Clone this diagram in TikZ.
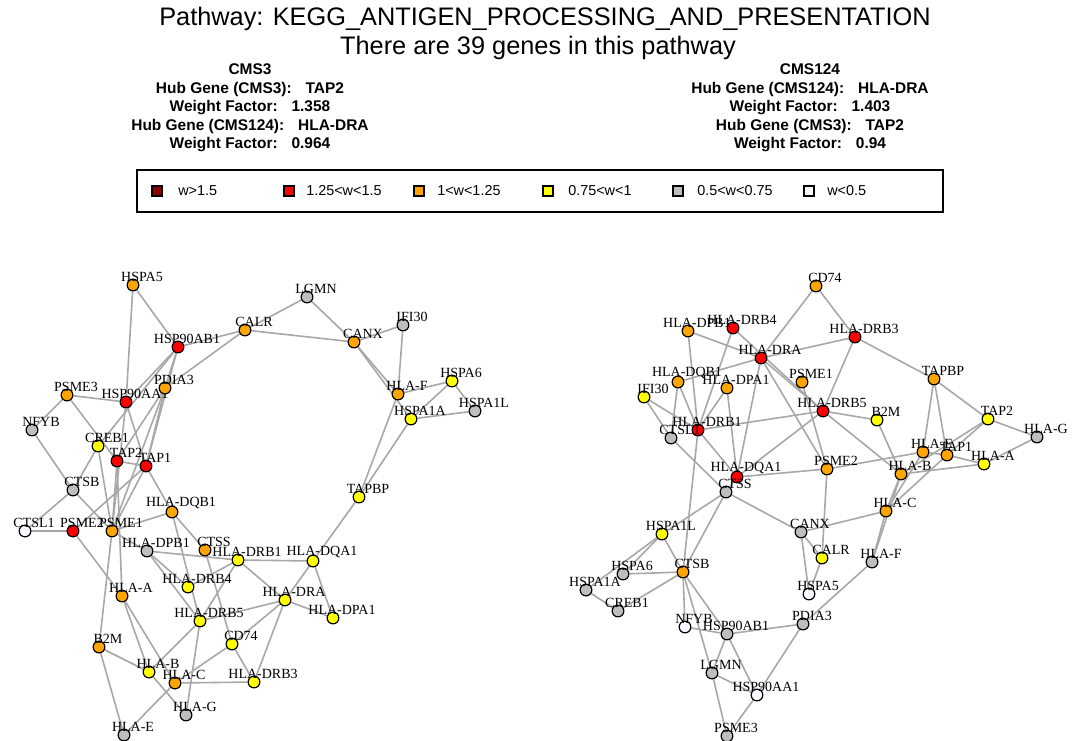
\documentclass[tikz,border=0pt]{standalone}
\usepackage{fontspec}
\setmainfont{Liberation Serif}
\newfontfamily\hdrfont{Liberation Sans}
\usetikzlibrary{backgrounds}
\definecolor{wdark}{HTML}{8B0000}
\definecolor{wred}{HTML}{FF0000}
\definecolor{worange}{HTML}{FFA500}
\definecolor{wyellow}{HTML}{FFFF00}
\definecolor{wgray}{HTML}{BEBEBE}
\definecolor{wwhite}{HTML}{F8F8FF}
\definecolor{linkgray}{HTML}{A8A8A8}
\tikzset{
  gene/.style={circle, draw=black, line width=0.9pt, fill=#1, minimum size=8.8pt, inner sep=0pt},
  glab/.style={anchor=south, inner sep=0pt, font=\fontsize{10.5}{12}\selectfont},
  link/.style={draw=linkgray, line width=1.2pt},
  ttl/.style={font=\hdrfont\fontsize{19}{22}\selectfont, inner sep=0pt},
  info/.style={font=\hdrfont\bfseries\fontsize{11.6}{13.9}\selectfont, align=center, inner sep=0pt},
  legsq/.style={draw=black, line width=0.9pt, fill=#1, minimum size=7.5pt, inner sep=0pt},
  legtxt/.style={anchor=west, inner sep=0pt, font=\hdrfont\fontsize{10.8}{13}\selectfont}
}

\begin{document}
\begin{tikzpicture}[x=0.75pt, y=-0.75pt]
  \useasboundingbox (0,0) rectangle (1081,740);

  % Header
  \node[ttl] (title) at (545,19) {Pathway: KEGG\_ANTIGEN\_PROCESSING\_AND\_PRESENTATION};
  \node[ttl] (subtitle) at (538,48) {There are 39 genes in this pathway};
  \node[info] (infoA) at (250,108) {CMS3\\Hub Gene (CMS3):\hspace{0.9em}TAP2\\Weight Factor:\hspace{0.9em}1.358\\Hub Gene (CMS124):\hspace{0.9em}HLA-DRA\\Weight Factor:\hspace{0.9em}0.964};
  \node[info] (infoB) at (810,108) {CMS124\\Hub Gene (CMS124):\hspace{0.9em}HLA-DRA\\Weight Factor:\hspace{0.9em}1.403\\Hub Gene (CMS3):\hspace{0.9em}TAP2\\Weight Factor:\hspace{0.9em}0.94};

  % Legend
  \draw[line width=1.1pt] (137,170) rectangle (943,212);
  \foreach \i/\sx/\tx/\c/\t in {1/157/178/wdark/{w>1.5}, 2/289/306/wred/{1.25<w<1.5}, 3/419/437/worange/{1<w<1.25},
      4/548/568/wyellow/{0.75<w<1}, 5/678/697/wgray/{0.5<w<0.75}, 6/809/827/wwhite/{w<0.5}}{
    \node[legsq=\c] (key\i) at (\sx,191) {};
    \node[legtxt] (keytext\i) at (\tx,191) {\t};
  }

  % CMS3 network
  \foreach \g/\x/\y/\c in {HSPA5/133/285/worange, HSP90AB1/178/347/wred, CALR/245/330/worange, LGMN/307/297/wgray,
      CANX/354/342/worange, IFI30/403/325/wgray, HSPA6/452/381/wyellow, HLA-F/398/394/worange,
      HSPA1A/411/419/wyellow, HSPA1L/475/411/wgray, TAPBP/359/497/wyellow, PSME3/67/395/worange,
      HSP90AA1/126/402/wred, PDIA3/165/388/worange, NFYB/32/430/wgray, CREB1/98/446/wyellow,
      TAP2/117/461/wred, TAP1/146/466/wred, CTSB/73/490/wgray, HLA-DQB1/172/512/worange,
      CTSL1/25/531/wwhite, PSME2/73/531/wred, PSME1/112/531/worange, HLA-DPB1/147/551/wgray,
      CTSS/205/550/worange, HLA-DRB1/238/560/wyellow, HLA-DQA1/313/561/wyellow, HLA-DRB4/188/587/wyellow,
      HLA-A/122/596/worange, HLA-DRA/285/600/wyellow, HLA-DRB5/200/621/wyellow, HLA-DPA1/333/618/wyellow,
      CD74/232/644/wyellow, B2M/99/647/worange, HLA-B/149/672/wyellow, HLA-C/175/683/worange,
      HLA-DRB3/254/682/wyellow, HLA-G/186/715/wgray, HLA-E/124/735/wgray}{
    \node[gene=\c] (l-\g) at (\x,\y) {};
    \node[glab] (l-\g-lab) at ([shift={(9,-3)}]l-\g.center) {\g};
  }

  % CMS124 network
  \foreach \g/\x/\y/\c in {CD74/816/286/worange, HLA-DRB4/733/328/wred, HLA-DPB1/688/331/worange, HLA-DRB3/855/337/wred,
      HLA-DRA/761/358/wred, HLA-DQB1/678/382/worange, HLA-DPA1/727/388/worange, PSME1/802/382/worange,
      IFI30/644/397/wyellow, HLA-DRB5/823/411/wred, TAPBP/934/379/worange, B2M/877/420/wyellow,
      TAP2/988/419/wyellow, HLA-G/1037/437/wgray, HLA-DRB1/698/430/wred, CTSL1/671/438/wgray,
      HLA-E/923/452/worange, TAP1/947/455/worange, HLA-A/984/464/wyellow, HLA-B/901/474/worange,
      PSME2/827/469/worange, HLA-DQA1/737/477/wred, CTSS/726/492/wgray, HLA-C/886/511/worange,
      CANX/801/532/wgray, HSPA1L/662/534/wyellow, CALR/822/558/wyellow, HLA-F/872/562/wgray,
      HSPA6/623/574/wgray, CTSB/683/572/worange, HSPA1A/586/590/wgray, HSPA5/809/594/wwhite,
      CREB1/618/611/wgray, NFYB/685/627/wwhite, HSP90AB1/727/634/wgray, PDIA3/803/624/wgray,
      LGMN/712/673/wgray, HSP90AA1/757/695/wwhite, PSME3/727/736/wgray}{
    \node[gene=\c] (r-\g) at (\x,\y) {};
    \node[glab] (r-\g-lab) at ([shift={(9,-3)}]r-\g.center) {\g};
  }

  \begin{scope}[on background layer]
    \fill[white] (0,0) rectangle (1081,740);
    % CMS3 links
    \foreach \a/\b in {HSPA5/HSP90AB1, HSPA5/HSP90AA1, HSP90AB1/CALR, HSP90AB1/HSP90AA1, HSP90AB1/PDIA3,
        HSP90AB1/TAP1, HSP90AB1/CREB1, CALR/LGMN, CALR/CANX, CALR/PDIA3, LGMN/CANX, CANX/IFI30,
        CANX/HLA-F, CANX/HSPA1A, IFI30/HLA-F, HLA-F/HSPA6, HSPA6/HSPA1A, HSPA6/HSPA1L, HSPA1A/HSPA1L,
        HLA-F/TAPBP, HSPA1A/TAPBP, TAPBP/HLA-DQA1, PSME3/HSP90AA1, PSME3/NFYB, PSME3/TAP2,
        PDIA3/TAP2, PDIA3/TAP1, PDIA3/PSME1, HSP90AA1/TAP1, HSP90AA1/PSME1, NFYB/CTSB, CREB1/CTSB,
        CREB1/PSME1, TAP2/TAP1, TAP2/PSME1, TAP2/HLA-A, TAP1/PSME2, TAP1/PSME1, TAP1/HLA-DQB1,
        CTSB/CTSL1, CTSB/PSME1, CTSL1/PSME2, PSME2/HLA-A, PSME1/HLA-DQB1, PSME1/HLA-DPB1, PSME1/B2M,
        HLA-DQB1/CTSS, HLA-DQB1/HLA-DRB5, HLA-DPB1/HLA-DRB1, HLA-DPB1/HLA-DRB4, HLA-DPB1/HLA-DRB5,
        CTSS/CD74, HLA-DRB1/HLA-DQA1, HLA-DRB1/HLA-DRA, HLA-DRB1/HLA-DRB4, HLA-DRB1/HLA-DRB5,
        HLA-DQA1/HLA-DRA, HLA-DQA1/HLA-DPA1, HLA-DRA/HLA-DPA1, HLA-DRA/HLA-DRB5, HLA-DRA/CD74,
        HLA-DRA/HLA-DRB3, CD74/HLA-DRB3, CD74/HLA-C, HLA-DRB5/HLA-B, HLA-DRB5/HLA-G, HLA-A/HLA-B,
        HLA-A/HLA-C, B2M/HLA-B, B2M/HLA-E, HLA-B/HLA-G, HLA-C/HLA-DRB3, HLA-C/HLA-E}
      \draw[link] (l-\a) -- (l-\b);
    % CMS124 links
    \foreach \a/\b in {CD74/HLA-DRA, CD74/HLA-DRB3, HLA-DPB1/HLA-DRA, HLA-DPB1/HLA-DRB1, HLA-DRB4/HLA-DRB1,
        HLA-DRB4/HLA-DRB5, HLA-DRA/HLA-DRB5, HLA-DRA/HLA-DRB3, HLA-DRA/HLA-DQB1, HLA-DRA/HLA-DQA1,
        HLA-DRA/PSME2, PSME1/PSME2, HLA-DQB1/HLA-DRB1, HLA-DQB1/CTSL1, HLA-DPA1/HLA-DRB1, HLA-DPA1/HLA-DQA1,
        IFI30/HLA-DRB1, IFI30/CTSL1, CTSL1/CTSS, HLA-DRB1/HLA-DRB5, HLA-DRB1/HLA-DQA1, HLA-DRB1/CTSB,
        HLA-DQA1/HLA-DRB5, HLA-DQA1/PSME2, HLA-DQA1/CTSS, HLA-DRB5/HLA-DRB3, HLA-DRB5/B2M, HLA-DRB5/HLA-B,
        HLA-DRB3/TAPBP, TAPBP/HLA-E, TAPBP/TAP1, TAPBP/TAP2, TAP2/HLA-G, TAP2/TAP1, TAP2/HLA-B,
        HLA-G/HLA-A, HLA-E/TAP1, TAP1/HLA-A, HLA-E/PSME2, HLA-B/HLA-A, B2M/HLA-B, HLA-C/HLA-B,
        HLA-C/TAP1, HLA-C/HLA-E, HLA-C/CANX, HLA-F/HLA-C, HLA-F/HLA-B, HLA-F/PDIA3, PSME2/CALR,
        CANX/CALR, CANX/HSPA5, CANX/CTSS, CALR/HSPA5, CTSS/HSPA1L, CTSS/CTSB, HSPA1L/HSPA6,
        HSPA1L/HSPA1A, HSPA1L/CTSB, HSPA6/CTSB, HSPA1A/CREB1, CREB1/CTSB, CTSB/NFYB, CTSB/HSP90AB1,
        CTSB/LGMN, NFYB/HSP90AB1, HSP90AB1/PDIA3, HSP90AB1/LGMN, HSP90AB1/HSP90AA1, PDIA3/HSP90AA1,
        LGMN/HSP90AA1, LGMN/PSME3, HSP90AA1/PSME3}
      \draw[link] (r-\a) -- (r-\b);
  \end{scope}
\end{tikzpicture}
\end{document}
